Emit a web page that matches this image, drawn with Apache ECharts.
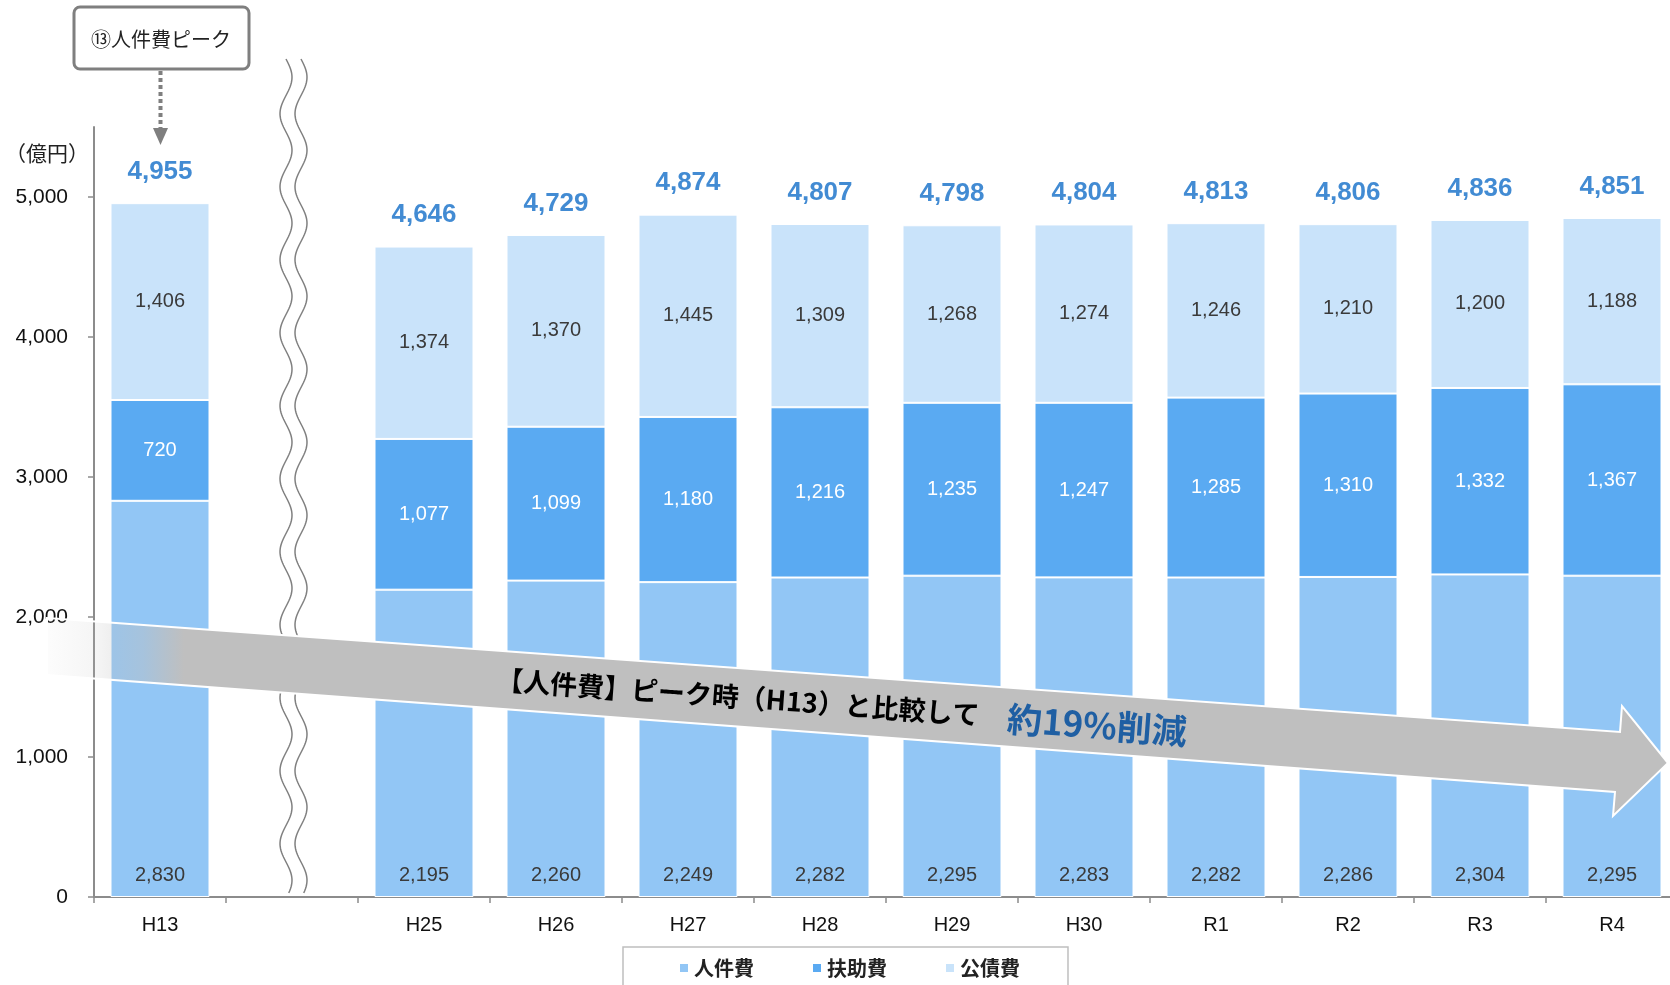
<!DOCTYPE html>
<html>
<head>
<meta charset="utf-8">
<script src="https://cdn.jsdelivr.net/npm/echarts@6/dist/echarts.min.js"></script>
<style>
  html, body { margin: 0; padding: 0; background: #fff; }
  #main { width: 1670px; height: 985px; }
</style>
</head>
<body>
<div id="main"></div>
<script>
var chart = echarts.init(document.getElementById('main'));

// 年度（2列目は省略記号用の空欄）
var years = ['H13', '', 'H25', 'H26', 'H27', 'H28', 'H29', 'H30', 'R1', 'R2', 'R3', 'R4'];
var jinken = [2830, '-', 2195, 2260, 2249, 2282, 2295, 2283, 2282, 2286, 2304, 2295];
var fujo   = [720, '-', 1077, 1099, 1180, 1216, 1235, 1247, 1285, 1310, 1332, 1367];
var kousai = [1406, '-', 1374, 1370, 1445, 1309, 1268, 1274, 1246, 1210, 1200, 1188];
var totals = [4955, '-', 4646, 4729, 4874, 4807, 4798, 4804, 4813, 4806, 4836, 4851];
var yTicks = [0, 1000, 2000, 3000, 4000, 5000];

var FONT = '"Liberation Sans", Arial, "Noto Sans CJK JP", sans-serif';
var JP = '"Noto Sans CJK JP", "Liberation Sans", sans-serif';

function comma(v) {
	return String(v).replace(/\B(?=(\d{3})+(?!\d))/g, ',');
}

// 波線（省略記号）
function wave(cx) {
	var pts = [];
	for (var y = 59; y <= 893; y += 2) {
		pts.push([cx + 6 * Math.sin((y - 59) / 73 * Math.PI * 2), y]);
	}
	return pts;
}

var barLabel = {
	show: true,
	fontSize: 20,
	fontFamily: FONT,
	color: '#3a3a3a',
	formatter: function (p) { return comma(p.value); }
};

var option = {
	backgroundColor: '#fff',
	animation: false,
	grid: {
		left: 94,
		top: 127,
		width: 1584,
		height: 770,
		outerBoundsMode: 'none'
	},
	legend: {
		data: ['人件費', '扶助費', '公債費'],
		left: 623,
		top: 947,
		icon: 'rect',
		itemWidth: 10,
		itemHeight: 10,
		itemGap: 57,
		padding: [11, 48, 14, 55],
		borderColor: '#bfbfbf',
		borderWidth: 1.5,
		textStyle: {
			fontSize: 20,
			fontWeight: 'bold',
			color: '#222',
			fontFamily: JP
		}
	},
	xAxis: {
		type: 'category',
		data: years,
		axisLine: {
			lineStyle: { color: '#8c8c8c', width: 2 }
		},
		axisTick: {
			show: true,
			interval: 0,
			length: 6,
			lineStyle: { color: '#8c8c8c', width: 1.5 }
		},
		axisLabel: {
			interval: 0,
			margin: 18,
			fontSize: 20,
			color: '#111',
			fontFamily: FONT
		}
	},
	yAxis: {
		type: 'value',
		min: 0,
		max: 5500,
		interval: 1000,
		splitLine: { show: false },
		axisLine: {
			show: true,
			lineStyle: { color: '#8c8c8c', width: 2 }
		},
		axisTick: {
			show: true,
			length: 6,
			customValues: yTicks,
			lineStyle: { color: '#8c8c8c', width: 1.5 }
		},
		axisLabel: {
			customValues: yTicks,
			margin: 26,
			fontSize: 21,
			color: '#111',
			fontFamily: FONT,
			formatter: function (v) { return comma(v); }
		}
	},
	series: [
		{
			name: '人件費',
			type: 'bar',
			stack: 'total',
			barWidth: '75%',
			data: jinken,
			itemStyle: { color: '#92c6f5', borderColor: '#fff', borderWidth: 1 },
			label: Object.assign({}, barLabel, { position: 'insideBottom', distance: 12 })
		},
		{
			name: '扶助費',
			type: 'bar',
			stack: 'total',
			data: fujo,
			itemStyle: { color: '#5aaaf2', borderColor: '#fff', borderWidth: 1 },
			label: Object.assign({}, barLabel, { position: 'inside', color: '#fff' })
		},
		{
			name: '公債費',
			type: 'bar',
			stack: 'total',
			data: kousai,
			itemStyle: { color: '#c9e3fa', borderColor: '#fff', borderWidth: 1 },
			label: Object.assign({}, barLabel, { position: 'inside' })
		},
		{
			name: '合計',
			type: 'scatter',
			data: totals,
			symbolSize: 1,
			itemStyle: { color: 'rgba(0,0,0,0)' },
			label: {
				show: true,
				position: 'top',
				distance: 18,
				fontSize: 26,
				fontWeight: 'bold',
				color: '#136ec8',
				fontFamily: FONT,
				formatter: function (p) { return comma(p.value); }
			}
		}
	],
	graphic: [
		{
			type: 'text',
			x: 5, y: 153,
			style: {
				text: '（億円）',
				font: '21px ' + JP,
				fill: '#222',
				verticalAlign: 'middle'
			}
		},
		{
			type: 'rect',
			shape: { x: 74, y: 7, width: 175, height: 62, r: 6 },
			style: { fill: '#fff', stroke: '#7f7f7f', lineWidth: 3 }
		},
		{
			type: 'text',
			x: 161, y: 39,
			style: {
				text: '⑬人件費ピーク',
				font: '20px ' + JP,
				fill: '#222',
				align: 'center',
				verticalAlign: 'middle'
			}
		},
		{
			type: 'line',
			shape: { x1: 160.5, y1: 71, x2: 160.5, y2: 128 },
			style: { stroke: '#7f7f7f', lineWidth: 4, lineDash: [4, 3] }
		},
		{
			type: 'polygon',
			shape: { points: [[153, 128], [168, 128], [160.5, 145]] },
			style: { fill: '#7f7f7f' }
		},
		{
			type: 'polyline',
			z: 50,
			shape: { points: wave(286) },
			style: { stroke: '#808080', lineWidth: 1.5, fill: null }
		},
		{
			type: 'polyline',
			z: 50,
			shape: { points: wave(301) },
			style: { stroke: '#808080', lineWidth: 1.5, fill: null }
		},
		{
			type: 'polygon',
			z: 100,
			shape: {
				points: [[47, 618], [1620, 732], [1622, 706], [1668, 763], [1613, 816], [1615, 792], [47, 675]]
			},
			style: {
				fill: new echarts.graphic.LinearGradient(0, 0, 1, 0, [
					{ offset: 0, color: 'rgba(191,191,191,0.04)' },
					{ offset: 0.03, color: 'rgba(191,191,191,0.15)' },
					{ offset: 0.06, color: 'rgba(191,191,191,0.45)' },
					{ offset: 0.085, color: 'rgba(191,191,191,1)' },
					{ offset: 1, color: 'rgba(191,191,191,1)' }
				]),
				stroke: '#fff',
				lineWidth: 2
			}
		},
		{
			type: 'text',
			z: 101,
			x: 738, y: 697,
			rotation: -0.0734,
			style: {
				text: '【人件費】ピーク時（H13）と比較して',
				font: 'bold 27px ' + JP,
				fill: '#000',
				align: 'center',
				verticalAlign: 'middle'
			}
		},
		{
			type: 'text',
			z: 101,
			x: 1097, y: 725,
			rotation: -0.0734,
			style: {
				text: '約19%削減',
				font: 'bold 35px ' + JP,
				fill: '#1f5fa3',
				align: 'center',
				verticalAlign: 'middle'
			}
		}
	]
};

chart.setOption(option);
</script>
</body>
</html>
